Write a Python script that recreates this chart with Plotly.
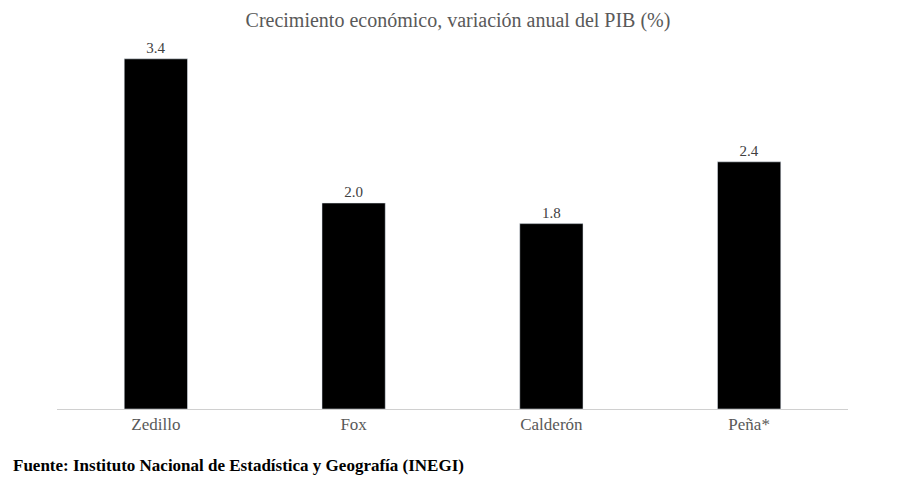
import plotly.graph_objects as go

presidentes = ['Zedillo', 'Fox', 'Calderón', 'Peña*']
crecimiento = [3.4, 2.0, 1.8, 2.4]
etiquetas = ['3.4', '2.0', '1.8', '2.4']

fig = go.Figure(go.Bar(x=presidentes, y=crecimiento, marker_color='black',
                       text=etiquetas, textposition='outside', cliponaxis=False,
                       textfont=dict(size=15, color='#404040')))

fig.update_layout(
    width=900, height=481, plot_bgcolor='white', paper_bgcolor='white',
    margin=dict(l=49, r=60, t=22, b=80), bargap=0.68, showlegend=False,
    font=dict(family='Liberation Serif, DejaVu Serif, serif', color='#595959'),
    title=dict(text='Crecimiento económico, variación anual del PIB (%)', x=0.5, xanchor='center',
               y=0.975, yanchor='middle', font=dict(size=20, color='#595959')),
)
fig.update_xaxes(showline=True, linecolor='#d0d0d0', linewidth=1, ticks='', tickfont=dict(size=17))
fig.update_yaxes(visible=False, range=[0, 3.68])

fig.add_annotation(text='<b>Fuente: Instituto Nacional de Estadística y Geografía (INEGI)</b>',
                   xref='paper', yref='paper', x=-0.058, y=-0.15, xanchor='left', yanchor='middle',
                   showarrow=False, font=dict(size=17, color='black'))

fig.write_html("out.html")
